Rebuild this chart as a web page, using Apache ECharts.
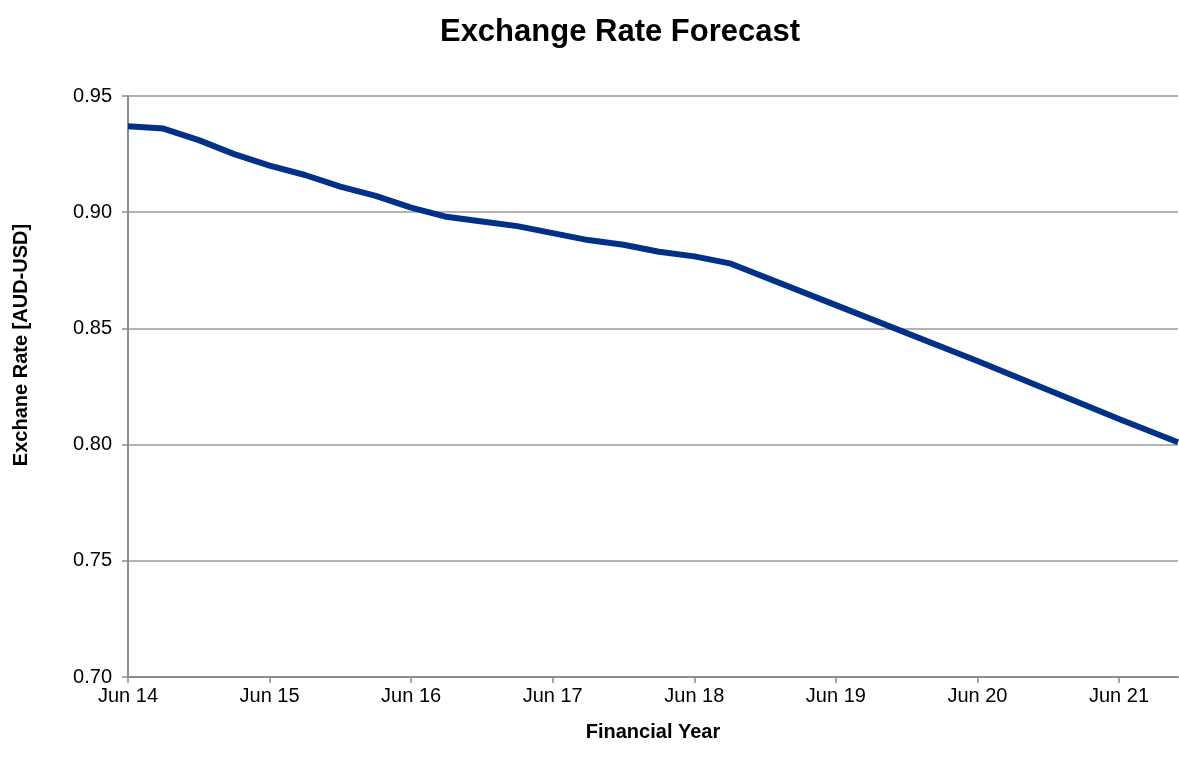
<!DOCTYPE html>
<html>
<head>
<meta charset="utf-8">
<title>Exchange Rate Forecast</title>
<script src="https://cdn.jsdelivr.net/npm/echarts@6/dist/echarts.min.js"></script>
<style>
  html, body { margin: 0; padding: 0; background: #fff; }
  #line { width: 1179px; height: 767px; }
</style>
</head>
<body>
<div id="line"></div>
<script>
// 月份序号（从 Jun 14 起算）
var months = [0, 3, 6, 9, 12, 15, 18, 21, 24, 27, 30, 33, 36, 39, 42, 45, 48, 51, 60, 72, 84, 89];
// AUD-USD 汇率
var rates = [0.937, 0.936, 0.931, 0.925, 0.920, 0.916, 0.911, 0.907, 0.902, 0.898, 0.896, 0.894,
  0.891, 0.888, 0.886, 0.883, 0.881, 0.878, 0.860, 0.836, 0.811, 0.801];
// x 轴刻度
var tickMonths = [0, 12, 24, 36, 48, 60, 72, 84];
var tickLabels = ['Jun 14', 'Jun 15', 'Jun 16', 'Jun 17', 'Jun 18', 'Jun 19', 'Jun 20', 'Jun 21'];

function getEchartsLine () {
  var myChart = echarts.init(document.getElementById('line'));

  var seriesData = months.map(function (m, i) {
    return [m, rates[i]];
  });

  const option = {
    animation: false,
    title: {
      text: 'Exchange Rate Forecast',
      left: 615,
      top: 12,
      textAlign: 'center',
      textStyle: {
        color: '#000',
        fontSize: 31,
        fontWeight: 'bold',
        fontFamily: 'Liberation Sans, Arial'
      }
    },
    // y 轴标题（参考图中并未对齐绘图区中心）
    graphic: [
      {
        type: 'text',
        x: 21,
        y: 345,
        rotation: Math.PI / 2,
        style: {
          text: 'Exchane Rate [AUD-USD]',
          fill: '#000',
          font: 'bold 20px "Liberation Sans", Arial',
          align: 'center',
          verticalAlign: 'middle'
        }
      }
    ],
    grid: {
      left: 128,
      right: 1,
      top: 96,
      bottom: 90,
      containLabel: false
    },
    xAxis: {
      type: 'value',
      min: 0,
      max: 89,
      name: 'Financial Year',
      nameLocation: 'middle',
      nameGap: 45,
      nameTextStyle: {
        color: '#000',
        fontSize: 20,
        fontWeight: 'bold',
        fontFamily: 'Liberation Sans, Arial'
      },
      axisLine: {
        show: true,
        lineStyle: { color: '#8c8c8c', width: 2 }
      },
      axisTick: {
        show: true,
        length: 6,
        customValues: tickMonths,
        lineStyle: { color: '#8c8c8c', width: 1.5 }
      },
      axisLabel: {
        customValues: tickMonths,
        margin: 9,
        color: '#000',
        fontSize: 20,
        fontFamily: 'Liberation Sans, Arial',
        formatter: function (v) {
          return tickLabels[tickMonths.indexOf(v)];
        }
      },
      splitLine: { show: false }
    },
    yAxis: {
      type: 'value',
      min: 0.70,
      max: 0.95,
      interval: 0.05,
      axisLine: {
        show: true,
        lineStyle: { color: '#8c8c8c', width: 2 }
      },
      axisTick: {
        show: true,
        length: 6,
        lineStyle: { color: '#8c8c8c', width: 1.5 }
      },
      axisLabel: {
        margin: 16,
        color: '#000',
        fontSize: 20,
        fontFamily: 'Liberation Sans, Arial',
        formatter: function (v) {
          return v.toFixed(2);
        }
      },
      splitLine: {
        show: true,
        lineStyle: { color: '#9a9a9a', width: 1.5 }
      }
    },
    series: [
      {
        type: 'line',
        data: seriesData,
        symbol: 'none',
        smooth: false,
        lineStyle: { color: '#003087', width: 6 },
        itemStyle: { color: '#003087' }
      }
    ]
  };

  myChart.setOption(option);

  window.addEventListener('resize', function () {
    myChart.resize();
  });
}

getEchartsLine();
</script>
</body>
</html>
